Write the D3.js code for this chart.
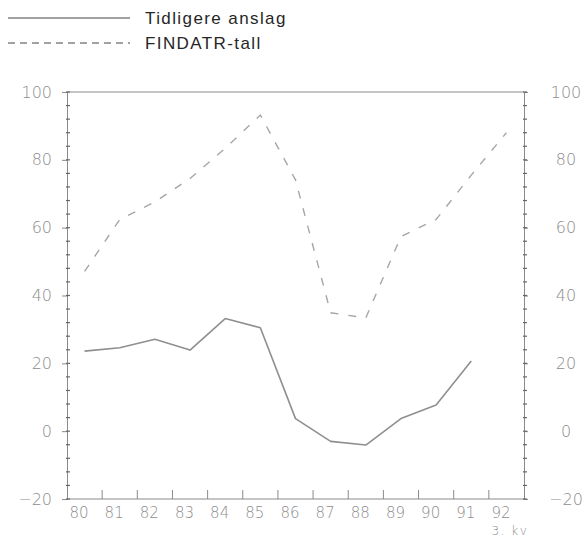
<!DOCTYPE html>
<html>
<head>
<meta charset="utf-8">
<script src="https://cdn.jsdelivr.net/npm/d3@7"></script>
<style>
  html, body { margin: 0; padding: 0; background: #fff; }
  svg { display: block; }
</style>
</head>
<body>
<svg id="chart" width="584" height="539"></svg>
<script>
// Years (3rd quarter) and the two series
const years = [80, 81, 82, 83, 84, 85, 86, 87, 88, 89, 90, 91, 92];
const tidligere = [23.6, 24.6, 27.1, 23.9, 33.2, 30.5, 3.7, -3.0, -4.1, 3.7, 7.7, 20.7];
const findatr = [47.1, 62.4, 67.6, 74.5, 83.4, 93.2, 74.1, 34.9, 33.4, 57.4, 62.4, 75.5, 88.0];
const yTicks = [-20, 0, 20, 40, 60, 80, 100];
const legendLabels = ["Tidligere anslag", "FINDATR-tall"];
const unitLabel = "3. kv";

const svg = d3.select("#chart");
const axisColor = "#8a8a8a";
const labelColor = "#8c8c8c";
const labelFont = "'DejaVu Sans', sans-serif";

const x = d3.scaleLinear().domain([80, 93]).range([67, 524]);
const y = d3.scaleLinear().domain([-20, 100]).range([499, 92]);
// year labels sit a little to the right of their ticks
const xLabel = d3.scaleLinear().domain([80, 92]).range([79, 501]);

// Legend
const legend = svg.append("g");
legendLabels.forEach((t, i) => {
  const ly = i === 0 ? 18 : 43;
  legend.append("line")
    .attr("x1", 8).attr("x2", 130).attr("y1", ly).attr("y2", ly)
    .attr("stroke", "#444").attr("stroke-width", 1.1)
    .attr("stroke-dasharray", i === 0 ? null : "7,5");
  legend.append("text")
    .attr("x", 145).attr("y", ly + 6)
    .attr("font-family", "'Liberation Sans', Arial, sans-serif")
    .attr("font-size", 17).attr("letter-spacing", 1.4)
    .attr("fill", "#262626")
    .text(t);
});

// Frame
const frame = svg.append("g").attr("stroke", axisColor).attr("stroke-width", 1).attr("fill", "none");
frame.append("line").attr("x1", x(80)).attr("x2", x(93)).attr("y1", y(100)).attr("y2", y(100));
frame.append("line").attr("x1", x(80)).attr("x2", x(93)).attr("y1", y(-20)).attr("y2", y(-20));

// Left and right value axes with minor ticks every 4 units
const minor = d3.range(-20, 101, 4);
const leftAxis = d3.axisLeft(y).tickValues(yTicks).tickSize(5).tickFormat(d3.format("d")).tickPadding(10);
const rightAxis = d3.axisRight(y).tickValues(yTicks).tickSize(4).tickFormat(d3.format("d")).tickPadding(10);

function styleAxis(g) {
  g.select(".domain").attr("stroke", axisColor);
  g.selectAll(".tick line").attr("stroke", axisColor);
  g.selectAll(".tick text")
    .attr("fill", labelColor)
    .attr("font-family", labelFont)
    .attr("font-size", 16)
    .attr("font-weight", 300);
}

const gl = svg.append("g").attr("transform", `translate(${x(80)},0)`).call(leftAxis);
styleAxis(gl);
gl.selectAll(".tick text").attr("x", -15);
gl.selectAll(".minor").data(minor).join("line")
  .attr("class", "minor")
  .attr("x1", -1).attr("x2", 3)
  .attr("y1", d => y(d)).attr("y2", d => y(d))
  .attr("stroke", "#666").attr("stroke-width", 1.2);

const gr = svg.append("g").attr("transform", `translate(${x(93)},0)`).call(rightAxis);
styleAxis(gr);
gr.selectAll(".tick text").attr("text-anchor", "middle").attr("x", 42);
gr.selectAll(".minor").data(minor).join("line")
  .attr("class", "minor")
  .attr("x1", -1).attr("x2", 3)
  .attr("y1", d => y(d)).attr("y2", d => y(d))
  .attr("stroke", "#666").attr("stroke-width", 1.2);

// Year ticks on the bottom axis
const tickYears = years.slice(1);
svg.append("g").selectAll("line").data(tickYears).join("line")
  .attr("x1", d => x(d)).attr("x2", d => x(d))
  .attr("y1", y(-20)).attr("y2", y(-20) - 9)
  .attr("stroke", axisColor).attr("stroke-width", 1);

svg.append("g").selectAll("text").data(years).join("text")
  .attr("x", d => xLabel(d)).attr("y", 518)
  .attr("text-anchor", "middle")
  .attr("fill", labelColor)
  .attr("font-family", labelFont)
  .attr("font-size", 15)
  .attr("font-weight", 300)
  .text(d => d);

svg.append("text")
  .attr("x", 510).attr("y", 535)
  .attr("text-anchor", "middle")
  .attr("fill", labelColor)
  .attr("font-family", labelFont)
  .attr("font-size", 12)
  .attr("font-weight", 300)
  .attr("letter-spacing", 1.5)
  .text(unitLabel);

// Series lines, plotted mid-year (3rd quarter)
const line = d3.line().x(d => x(d[0] + 0.5)).y(d => y(d[1]));

svg.append("path")
  .datum(years.slice(0, tidligere.length).map((yr, i) => [yr, tidligere[i]]))
  .attr("d", line)
  .attr("fill", "none")
  .attr("stroke", "#8f8f8f")
  .attr("stroke-width", 1.6)
  .attr("stroke-linejoin", "round");

svg.append("path")
  .datum(years.map((yr, i) => [yr, findatr[i]]))
  .attr("d", line)
  .attr("fill", "none")
  .attr("stroke", "#a6a6a6")
  .attr("stroke-width", 1.4)
  .attr("stroke-dasharray", "8,10");
</script>
</body>
</html>
